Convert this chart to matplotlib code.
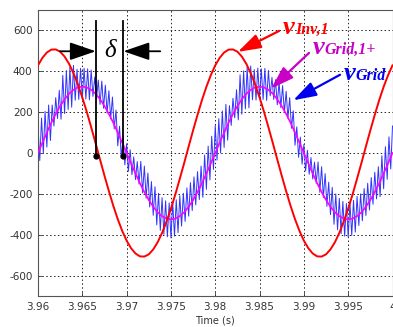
import numpy as np
import matplotlib
matplotlib.use("Agg")
import matplotlib.pyplot as plt

plt.rcParams['axes.unicode_minus'] = False

# ---------------- data ----------------
t_start, t_end = 3.96, 4.0

# inverter fundamental (red), sampled every 0.5 ms
v_inv = [429, 466, 492, 506, 507, 496, 472, 437, 391, 336, 272, 202, 126, 48, -32,
         -111, -187, -259, -324, -381, -429, -466, -492, -506, -507, -496, -472, -437,
         -391, -336, -272, -202, -126, -48, 32, 111, 187, 259, 324, 381, 429,
         466, 492, 506, 507, 496, 472, 437, 391, 336, 272, 202, 126, 48, -32,
         -111, -187, -259, -324, -381, -429, -466, -492, -506, -507, -496, -472, -437,
         -391, -336, -272, -202, -126, -48, 32, 111, 187, 259, 324, 381, 429]

# grid fundamental positive sequence (magenta), sampled every 0.5 ms
v_grid1 = [0, 51, 100, 148, 191, 230, 263, 290, 309, 321, 325, 321, 309, 290, 263, 230,
           191, 148, 100, 51, 0, -51, -100, -148, -191, -230, -263, -290, -309, -321,
           -325, -321, -309, -290, -263, -230, -191, -148, -100, -51, 0,
           51, 100, 148, 191, 230, 263, 290, 309, 321, 325, 321, 309, 290, 263, 230,
           191, 148, 100, 51, 0, -51, -100, -148, -191, -230, -263, -290, -309, -321,
           -325, -321, -309, -290, -263, -230, -191, -148, -100, -51, 0]

# grid voltage with switching ripple (blue), sampled every 0.2 ms (ripple peaks/troughs)
v_grid = [135, -37, 171, -2, 204, 29, 235, 61, 235, 132, 271, 169, 307, 165, 380, 193,
          404, 213, 419, 224, 429, 258, 410, 262, 414, 265, 415, 264, 412, 260, 406,
          277, 372, 265, 357, 238, 352, 219, 332, 195, 305, 167, 274, 118, 210, 35,
          131, -24, 81, -58, 45, -90, 16, -106, -19, -130, -42, -152, -41, -196, -64,
          -221, -98, -264, -140, -305, -165, -352, -197, -379, -219, -398, -234, -410,
          -244, -415, -242, -407, -229, -390, -209, -358, -197, -335, -171, -309, -145,
          -282, -117, -254, -91, -228, -64, -217, -10, -178, 34, -132, 82, -81, 135,
          -35, 168, 0, 206, 27, 238, 63, 232, 135, 268, 172, 310, 162, 383, 190,
          402, 216, 421, 221, 426, 260, 408, 259, 416, 268, 412, 262, 414, 257, 404,
          280, 370, 262, 359, 236, 350, 222, 330, 198, 302, 170, 271, 121, 207, 38,
          128, -21, 78, -55, 42, -88, 13, -104, -22, -127, -45, -149, -44, -193, -67,
          -218, -101, -261, -143, -302, -168, -349, -200, -376, -222, -395, -237, -407,
          -247, -412, -245, -404, -232, -387, -212, -355, -200, -332, -174, -306, -148,
          -279, -120, -251, -94, -225, -67, -214, -13, -175, 31, -129, 79, -78, 132]

t_slow = np.linspace(t_start, t_end, len(v_inv))
t_fast = np.linspace(t_start, t_end, len(v_grid))

x_ticks = [3.96, 3.965, 3.97, 3.975, 3.98, 3.985, 3.99, 3.995, 4.0]
x_tick_labels = ['3.96', '3.965', '3.97', '3.975', '3.98', '3.985', '3.99', '3.995', '4']
y_ticks = [-600, -400, -200, 0, 200, 400, 600]
y_tick_labels = ['-600', '-400', '-200', '0', '200', '400', '600']

delta_t = [3.96652, 3.96964]     # zero crossings marked for delta
delta_dot_v = -15
delta_top_v = 645

# ---------------- figure ----------------
fig = plt.figure(figsize=(3.93, 3.27), dpi=100)
ax = fig.add_axes([38/393, 31/327, 354.5/393, 286/327])

ax.plot(t_fast, v_grid, color='#3333ff', lw=0.7, zorder=2)
ax.plot(t_slow, v_grid1, color='#ff00ff', lw=1.2, zorder=3)
ax.plot(t_slow, v_inv, color='#ff0000', lw=1.4, zorder=4)

ax.set_xlim(t_start, t_end)
ax.set_ylim(-700, 700)
ax.set_xticks(x_ticks)
ax.set_xticklabels(x_tick_labels)
ax.set_yticks(y_ticks)
ax.set_yticklabels(y_tick_labels)
ax.tick_params(direction='in', length=3, width=0.6, labelsize=7.5, colors='#333333',
               pad=4)
ax.grid(True, color='#222222', linestyle=(0, (1.5, 2.5)), linewidth=0.7)
for s in ax.spines.values():
    s.set_color('#555555')
    s.set_linewidth(0.8)
ax.set_xlabel('Time (s)', fontsize=7, color='#333333', labelpad=3)

# delta markers
for xt in delta_t:
    ax.plot([xt, xt], [delta_dot_v, delta_top_v], color='black', lw=1.3, zorder=6)
    ax.plot([xt], [delta_dot_v], 'o', color='black', ms=3.5, zorder=6)

arrow_k = dict(arrowstyle='-|>,head_length=1.6,head_width=0.55', color='black',
               lw=1.3, mutation_scale=10, shrinkA=0, shrinkB=0)
ax.annotate('', xy=(delta_t[0], 498), xytext=(3.96249, 498), arrowprops=arrow_k, zorder=7)
ax.annotate('', xy=(delta_t[1], 498), xytext=(3.97379, 498), arrowprops=arrow_k, zorder=7)
ax.text(3.9681, 498, 'δ', fontsize=18, fontstyle='italic', family='Liberation Serif',
        ha='center', va='center', zorder=7)

# labels with arrows
def label(x, y, sub, color, tip, tail):
    arr = dict(arrowstyle='-|>,head_length=1.4,head_width=0.45', color=color,
               lw=1.6, mutation_scale=10, shrinkA=0, shrinkB=0)
    ax.annotate('', xy=tip, xytext=tail, arrowprops=arr, zorder=8)
    tv = ax.text(x, y, 'v', fontsize=19, fontweight='bold', fontstyle='italic',
                 family='Liberation Serif', color=color, ha='left', va='baseline',
                 zorder=8)
    ax.annotate(sub, xy=(1.0, 0.0), xycoords=tv, xytext=(0.3, 0.8),
                textcoords='offset points', fontsize=11.5, fontweight='bold',
                fontstyle='italic', family='Liberation Serif', color=color,
                ha='left', va='bottom', zorder=8)

label(3.98762, 583, 'Inv,1', '#ff0000', (3.98255, 495), (3.98722, 598))
label(3.99100, 485, 'Grid,1+', '#c800c8', (3.98630, 315), (3.99058, 490))
label(3.99450, 357, 'Grid', '#0000ee', (3.98880, 258), (3.99408, 383))

fig.savefig('out.png', dpi=100, facecolor='white')
